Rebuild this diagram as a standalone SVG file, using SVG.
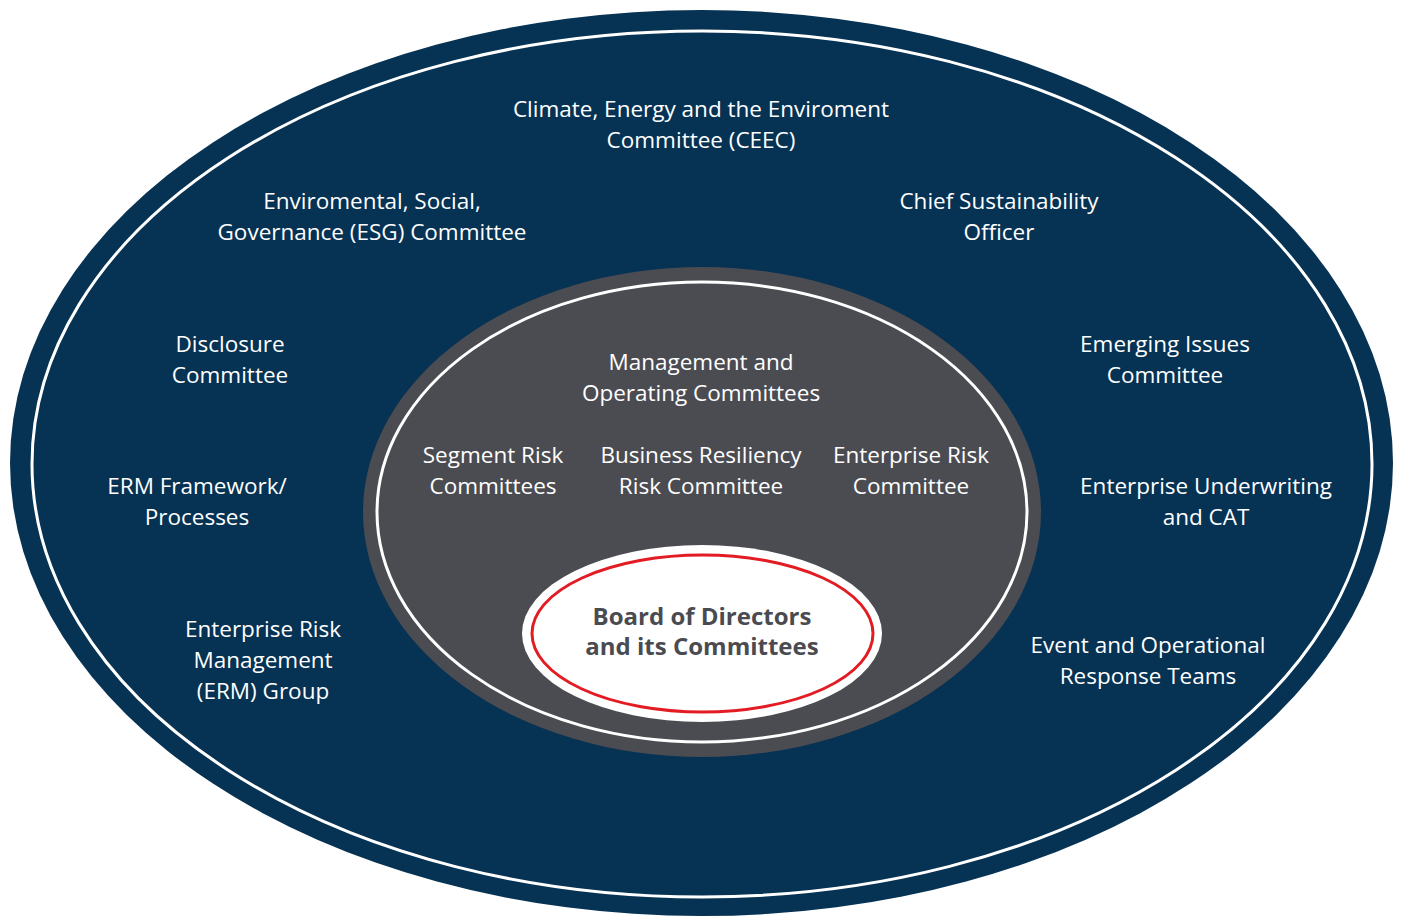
<svg xmlns="http://www.w3.org/2000/svg" width="1402" height="918" viewBox="0 0 1402 918">
<style>
.t{font-family:"Open Sans","Noto Sans","Liberation Sans",sans-serif;font-size:22.5px;fill:#ffffff;text-anchor:middle}
.b{font-family:"Open Sans","Noto Sans","Liberation Sans",sans-serif;font-size:24px;font-weight:bold;fill:#4a4b50;text-anchor:middle}
.ring{fill:none;stroke:#ffffff;stroke-width:3}
</style>
<rect width="1402" height="918" fill="#ffffff"/>
<g id="outer">
<ellipse cx="701.5" cy="463" rx="691.5" ry="453" fill="#063253"/>
<ellipse class="ring" cx="702" cy="464" rx="670" ry="433"/>
</g>
<g id="middle">
<ellipse cx="702" cy="512" rx="339" ry="245" fill="#4b4c52"/>
<ellipse class="ring" cx="702" cy="512" rx="325" ry="230"/>
</g>
<g id="board">
<ellipse cx="702" cy="633.5" rx="180" ry="88.5" fill="#ffffff"/>
<ellipse cx="702.5" cy="633.5" rx="170.5" ry="78.5" fill="none" stroke="#e31b23" stroke-width="3"/>
<text class="b" x="702" y="625">Board of Directors</text>
<text class="b" x="702" y="655">and its Committees</text>
</g>
<g id="ceec"><text class="t" x="701" y="117">Climate, Energy and the Enviroment</text><text class="t" x="701" y="148">Committee (CEEC)</text></g>
<g id="esg"><text class="t" x="372" y="209">Enviromental, Social,</text><text class="t" x="372" y="240">Governance (ESG) Committee</text></g>
<g id="cso"><text class="t" x="999" y="209">Chief Sustainability</text><text class="t" x="999" y="240">Officer</text></g>
<g id="disclosure"><text class="t" x="230" y="352">Disclosure</text><text class="t" x="230" y="383">Committee</text></g>
<g id="emerging"><text class="t" x="1165" y="352">Emerging Issues</text><text class="t" x="1165" y="383">Committee</text></g>
<g id="ermfw"><text class="t" x="197" y="494">ERM Framework/</text><text class="t" x="197" y="525">Processes</text></g>
<g id="euw"><text class="t" x="1206" y="494">Enterprise Underwriting</text><text class="t" x="1206" y="525">and CAT</text></g>
<g id="ermg"><text class="t" x="263" y="637">Enterprise Risk</text><text class="t" x="263" y="668">Management</text><text class="t" x="263" y="699">(ERM) Group</text></g>
<g id="event"><text class="t" x="1148" y="653">Event and Operational</text><text class="t" x="1148" y="684">Response Teams</text></g>
<g id="mgmt"><text class="t" x="701" y="370">Management and</text><text class="t" x="701" y="401">Operating Committees</text></g>
<g id="segment"><text class="t" x="493" y="463">Segment Risk</text><text class="t" x="493" y="494">Committees</text></g>
<g id="brrc"><text class="t" x="701" y="463">Business Resiliency</text><text class="t" x="701" y="494">Risk Committee</text></g>
<g id="erc"><text class="t" x="911" y="463">Enterprise Risk</text><text class="t" x="911" y="494">Committee</text></g>
<g id="connectors"></g>
</svg>
